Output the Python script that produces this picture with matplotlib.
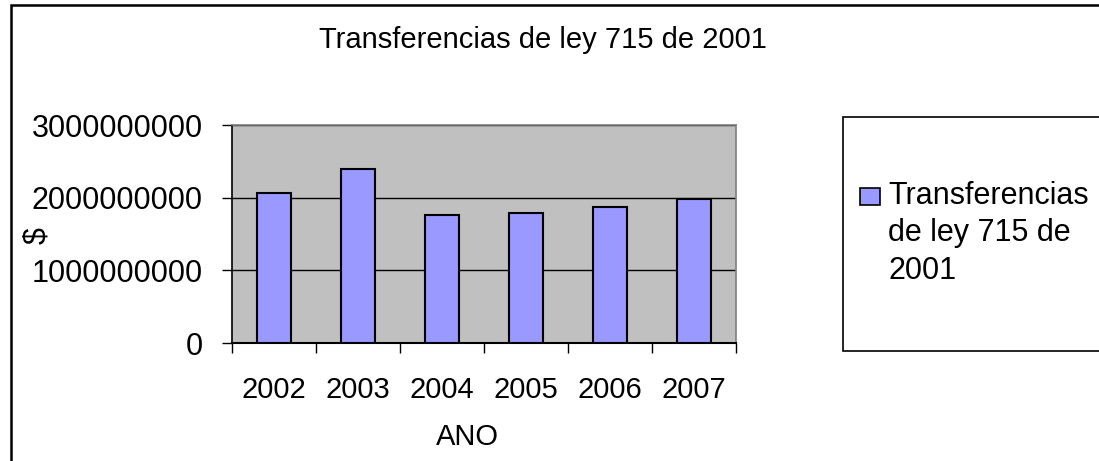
import matplotlib
matplotlib.use('Agg')
import matplotlib.pyplot as plt
from matplotlib.patches import Rectangle
from matplotlib.ticker import FuncFormatter

plt.rcParams['font.family'] = ['Liberation Sans', 'DejaVu Sans']

# data
years = ['2002', '2003', '2004', '2005', '2006', '2007']
transfers = [2063000000, 2394000000, 1760000000, 1787000000, 1865000000, 1976000000]
series_name = 'Transferencias\nde ley 715 de\n2001'
title = 'Transferencias de ley 715 de 2001'
y_ticks = [0, 1000000000, 2000000000, 3000000000]

W, H = 1099, 461
fig = plt.figure(figsize=(W / 100, H / 100), dpi=100)
fig.patch.set_facecolor('white')

# plot area in pixel coords of the reference
px_l, px_r, px_t, px_b = 232, 736, 125, 343
ax = fig.add_axes([px_l / W, 1 - px_b / H, (px_r - px_l) / W, (px_b - px_t) / H])
ax.set_facecolor('#C0C0C0')

xs = list(range(len(years)))
ax.bar(xs, transfers, width=0.41, color='#9999FF', edgecolor='black', linewidth=1.5, zorder=3)

ax.set_xlim(-0.5, len(years) - 0.5)
ax.set_ylim(0, 3000000000)
ax.set_yticks(y_ticks)
ax.yaxis.set_major_formatter(FuncFormatter(lambda v, p: f'{v:.0f}'))
ax.set_xticks(xs)
ax.set_xticklabels(years)
ax.set_xticks([x - 0.5 for x in xs] + [len(years) - 0.5], minor=True)

ax.tick_params(axis='y', which='major', direction='out', length=7, width=1, pad=14, labelsize=22, color='black')
ax.tick_params(axis='x', which='major', length=0, pad=24, labelsize=21)
ax.tick_params(axis='x', which='minor', direction='out', length=7, width=1, color='black')

ax.yaxis.grid(True, color='black', linewidth=1, zorder=1)
ax.set_axisbelow(True)

for side in ['top', 'right']:
    ax.spines[side].set_color('#808080')
    ax.spines[side].set_linewidth(1.2)
ax.spines['left'].set_color('black')
ax.spines['bottom'].set_color('black')
ax.spines['left'].set_linewidth(1.2)
ax.spines['bottom'].set_linewidth(1.5)

ax.set_xlabel('ANO', fontsize=21)
ax.xaxis.set_label_coords((467 - px_l) / (px_r - px_l), (px_b - 437) / (px_b - px_t))
ax.xaxis.label.set_va('center')
ax.set_ylabel('$', fontsize=22)
ax.yaxis.set_label_coords((37 - px_l) / (px_r - px_l), (px_b - 236) / (px_b - px_t))
ax.yaxis.label.set_va('center')

fig.text(543 / W, 1 - 40 / H, title, fontsize=21, ha='center', va='center')

# outer chart border (runs off the right and bottom)
fig.add_artist(Rectangle((11 / W, -0.1), 1.2, 1 - 5 / H + 0.1, transform=fig.transFigure,
                         fill=False, edgecolor='black', linewidth=1.8, clip_on=False))

# legend box
fig.add_artist(Rectangle((843 / W, 1 - 351 / H), 0.4, (351 - 117) / H, transform=fig.transFigure,
                         facecolor='white', edgecolor='black', linewidth=1.2, clip_on=False))
fig.add_artist(Rectangle((860 / W, 1 - 205 / H), 20 / W, 17 / H, transform=fig.transFigure,
                         facecolor='#9999FF', edgecolor='black', linewidth=1.2))
fig.text(888 / W, 1 - 181 / H, series_name, fontsize=22, ha='left', va='top',
         linespacing=1.32)

fig.savefig('out.png', dpi=100)
